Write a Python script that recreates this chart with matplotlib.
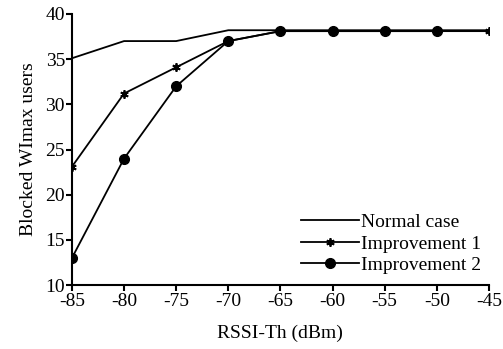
import matplotlib
matplotlib.use('Agg')
import matplotlib.pyplot as plt

plt.rcParams['font.family'] = ['Liberation Serif', 'DejaVu Serif']
plt.rcParams['axes.unicode_minus'] = False

rssi = [-85, -80, -75, -70, -65, -60, -55, -50, -45]
normal = [35.1, 37.0, 37.0, 38.2, 38.2, 38.2, 38.2, 38.2, 38.2]
imp1 = [23.1, 31.2, 34.1, 37.0, 38.1, 38.1, 38.1, 38.1, 38.1]
imp2_x = [-85, -80, -75, -70, -65, -60, -55, -50]
imp2 = [13.0, 24.0, 32.0, 37.0, 38.1, 38.1, 38.1, 38.1]

fig = plt.figure(figsize=(5.03, 3.49), dpi=100)
ax = fig.add_axes([0.143, 0.183, 0.829, 0.777])

ax.plot(rssi, normal, color='black', lw=1.3, label='Normal case')
ax.plot(rssi, imp1, color='black', lw=1.3, marker=(6, 2, 0), markersize=6,
        markeredgewidth=1.3, label='Improvement 1')
ax.plot(imp2_x, imp2, color='black', lw=1.3, marker='o', markersize=7,
        label='Improvement 2')

ax.set_xlim(-85, -45)
ax.set_ylim(10, 40)
ax.set_xticks(range(-85, -44, 5))
ax.set_yticks(range(10, 41, 5))
ax.spines['top'].set_visible(False)
ax.spines['right'].set_visible(False)
ax.spines['left'].set_linewidth(1.5)
ax.spines['bottom'].set_linewidth(1.5)
ax.tick_params(direction='out', length=4, width=1.5, labelsize=14, pad=1)
ax.tick_params(axis='x', pad=2)

ax.set_xlabel('RSSI-Th (dBm)', fontsize=14, labelpad=10)
ax.set_ylabel('Blocked WImax users', fontsize=14, labelpad=6)

ax.legend(loc='lower right', frameon=False, fontsize=14, handlelength=3.0,
          handletextpad=0.1, labelspacing=0.2, borderaxespad=0.0,
          bbox_to_anchor=(1.0, 0.012))

fig.savefig('out.png', dpi=100)
